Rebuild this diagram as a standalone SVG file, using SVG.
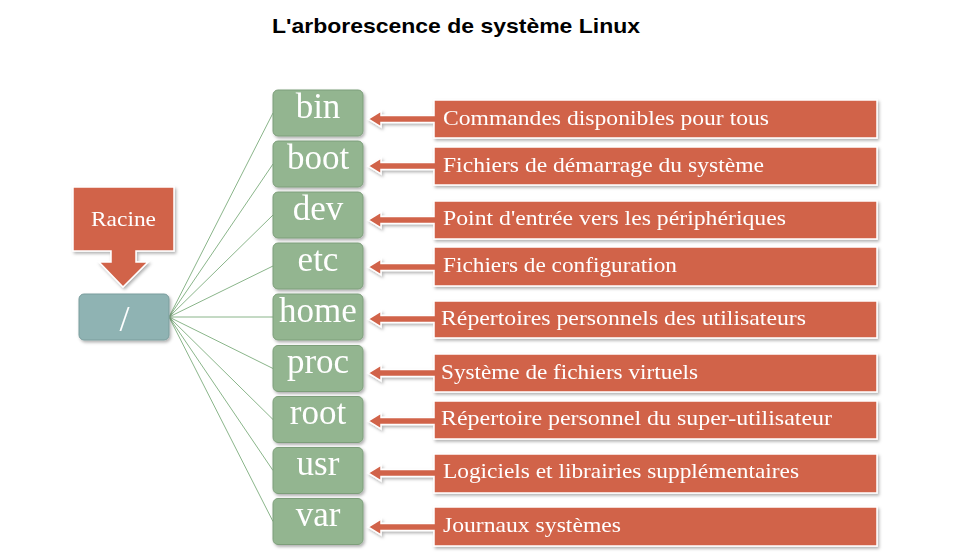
<svg xmlns="http://www.w3.org/2000/svg" width="978" height="552" viewBox="0 0 978 552">
<defs>
<filter id="sh" x="-10%" y="-20%" width="130%" height="150%">
<feDropShadow dx="1.5" dy="2" stdDeviation="1.5" flood-color="#000" flood-opacity="0.3"/>
</filter>
<style>
.title{font-family:"Liberation Sans",Arial,sans-serif;font-weight:bold;font-size:21px;fill:#000}
.dir rect{fill:#93b590;stroke:#7d9e7a;stroke-width:1}
.dir text{font-family:"Liberation Serif","Times New Roman",serif;font-size:35px;fill:#fff;text-anchor:middle}
.call path{fill:#d1634a;stroke:#fff;stroke-width:1.5;stroke-linejoin:miter}
.call text{font-family:"Liberation Serif","Times New Roman",serif;font-size:22px;fill:#fff}
.conn line{stroke:#8ab58a;stroke-width:1}
</style>
</defs>
<rect width="978" height="552" fill="#fff"/>
<text class="title" x="272" y="33" textLength="368" lengthAdjust="spacingAndGlyphs">L'arborescence de système Linux</text>

<g id="connectors" class="conn">
<line x1="169" y1="317" x2="273" y2="113"/>
<line x1="169" y1="317" x2="273" y2="164"/>
<line x1="169" y1="317" x2="273" y2="215"/>
<line x1="169" y1="317" x2="273" y2="266"/>
<line x1="169" y1="317" x2="273" y2="317"/>
<line x1="169" y1="317" x2="273" y2="368.5"/>
<line x1="169" y1="317" x2="273" y2="419.5"/>
<line x1="169" y1="317" x2="273" y2="470.5"/>
<line x1="169" y1="317" x2="273" y2="521.5"/>
</g>

<g id="racine" class="call" filter="url(#sh)">
<path d="M73,187 H174 V251 H136 V262 H148 L123,287 L99,262 H111 V251 H73 Z"/>
<text x="91" y="226" textLength="65" lengthAdjust="spacingAndGlyphs">Racine</text>
</g>

<g id="root-node" filter="url(#sh)">
<rect x="79" y="294" width="90" height="46" rx="5" fill="#8fb3b3" stroke="#7a9d9d"/>
<text x="124.5" y="331" font-family="'Liberation Serif','Times New Roman',serif" font-size="36" fill="#fff" text-anchor="middle">/</text>
</g>

<g id="bin" class="dir" filter="url(#sh)"><rect x="273" y="90" width="90" height="46" rx="5"/><text x="318" y="118">bin</text></g>
<g id="boot" class="dir" filter="url(#sh)"><rect x="273" y="141" width="90" height="46" rx="5"/><text x="318" y="169">boot</text></g>
<g id="dev" class="dir" filter="url(#sh)"><rect x="273" y="192" width="90" height="46" rx="5"/><text x="318" y="220">dev</text></g>
<g id="etc" class="dir" filter="url(#sh)"><rect x="273" y="243" width="90" height="46" rx="5"/><text x="318" y="271">etc</text></g>
<g id="home" class="dir" filter="url(#sh)"><rect x="273" y="294" width="90" height="46" rx="5"/><text x="318" y="322">home</text></g>
<g id="proc" class="dir" filter="url(#sh)"><rect x="273" y="345.5" width="90" height="46" rx="5"/><text x="318" y="373">proc</text></g>
<g id="root" class="dir" filter="url(#sh)"><rect x="273" y="396.5" width="90" height="46" rx="5"/><text x="318" y="424">root</text></g>
<g id="usr" class="dir" filter="url(#sh)"><rect x="273" y="447.5" width="90" height="46" rx="5"/><text x="318" y="475">usr</text></g>
<g id="var" class="dir" filter="url(#sh)"><rect x="273" y="498.5" width="90" height="46" rx="5"/><text x="318" y="526">var</text></g>

<g id="c-bin" class="call" filter="url(#sh)">
<path d="M434,100 H877 V138 H434 V122.5 H381 V127 L368,119 L381,111 V115.5 H434 Z"/>
<text x="443" y="125" textLength="326" lengthAdjust="spacingAndGlyphs">Commandes disponibles pour tous</text>
</g>
<g id="c-boot" class="call" filter="url(#sh)">
<path d="M434,147 H877 V185 H434 V169.5 H381 V174 L368,166 L381,158 V162.5 H434 Z"/>
<text x="443" y="172" textLength="321" lengthAdjust="spacingAndGlyphs">Fichiers de démarrage du système</text>
</g>
<g id="c-dev" class="call" filter="url(#sh)">
<path d="M434,201 H877 V239 H434 V223.5 H381 V228 L368,220 L381,212 V216.5 H434 Z"/>
<text x="443" y="225" textLength="343" lengthAdjust="spacingAndGlyphs">Point d'entrée vers les périphériques</text>
</g>
<g id="c-etc" class="call" filter="url(#sh)">
<path d="M434,247 H877 V286 H434 V270.5 H381 V275 L368,267 L381,259 V263.5 H434 Z"/>
<text x="443" y="272" textLength="234" lengthAdjust="spacingAndGlyphs">Fichiers de configuration</text>
</g>
<g id="c-home" class="call" filter="url(#sh)">
<path d="M434,301 H877 V338 H434 V322.5 H381 V327 L368,319 L381,311 V315.5 H434 Z"/>
<text x="441" y="325" textLength="365" lengthAdjust="spacingAndGlyphs">Répertoires personnels des utilisateurs</text>
</g>
<g id="c-proc" class="call" filter="url(#sh)">
<path d="M434,354 H877 V392 H434 V376.5 H381 V381 L368,373 L381,365 V369.5 H434 Z"/>
<text x="441" y="379" textLength="257" lengthAdjust="spacingAndGlyphs">Système de fichiers virtuels</text>
</g>
<g id="c-root" class="call" filter="url(#sh)">
<path d="M434,401 H877 V439 H434 V424.5 H381 V429 L368,421 L381,413 V417.5 H434 Z"/>
<text x="441" y="425" textLength="391" lengthAdjust="spacingAndGlyphs">Répertoire personnel du super-utilisateur</text>
</g>
<g id="c-usr" class="call" filter="url(#sh)">
<path d="M434,454 H877 V493 H434 V476.5 H381 V481 L368,473 L381,465 V469.5 H434 Z"/>
<text x="443" y="478" textLength="356" lengthAdjust="spacingAndGlyphs">Logiciels et librairies supplémentaires</text>
</g>
<g id="c-var" class="call" filter="url(#sh)">
<path d="M434,507 H877 V546 H434 V530.5 H381 V535 L368,527 L381,519 V523.5 H434 Z"/>
<text x="443" y="532" textLength="178" lengthAdjust="spacingAndGlyphs">Journaux systèmes</text>
</g>
</svg>
